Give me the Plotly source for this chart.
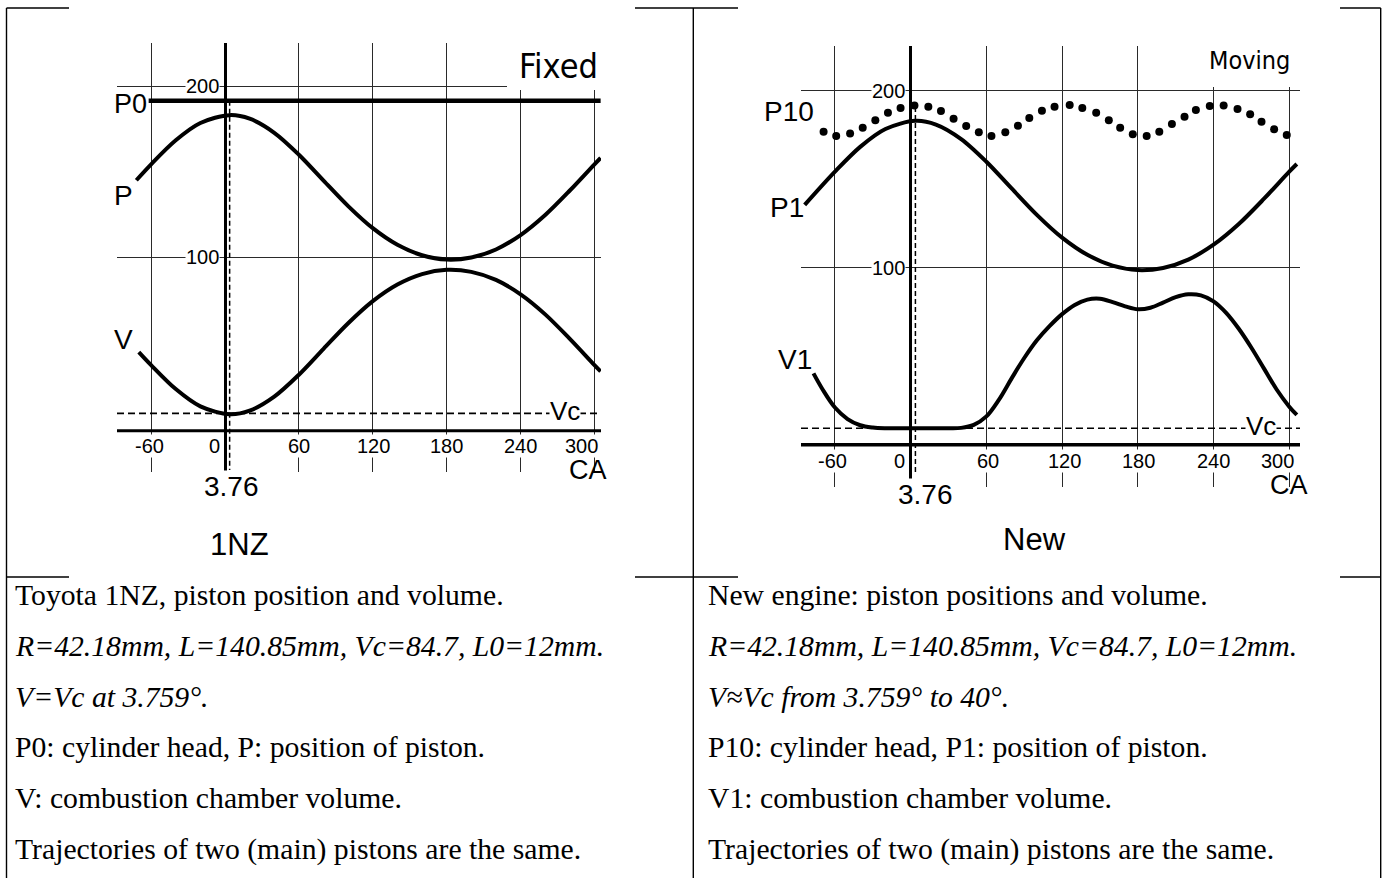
import plotly.graph_objects as go

W, H = 1383, 878

# ---------------- data ----------------
CA_TICKS = [-60, 0, 60, 120, 180, 240, 300]
TICK_TEXT = ["-60", "0", "60", "120", "180", "240", "300"]
Y_TICKS = [100, 200]
Y_TICK_TEXT = ["200", "100"]

# Left panel (Toyota 1NZ, fixed head)
P_CA = [-72, -60, -40, -20, 3.76, 20, 40, 60, 80, 100, 120, 140, 160, 180, 200, 220, 240, 260, 280, 300, 305]
P_VAL = [145.0, 154.3, 168.3, 178.4, 183.0, 180.9, 172.7, 159.9, 144.8, 129.9, 117.0, 107.3, 101.2, 98.7,
         99.9, 104.6, 113.0, 124.7, 139.0, 154.3, 158.0]
V_CA = [-70, -60, -40, -20, 3.76, 20, 40, 60, 80, 100, 120, 140, 160, 180, 200, 220, 240, 260, 280, 300, 305]
V_VAL = [44.7, 37.1, 23.1, 13.0, 8.4, 10.5, 18.7, 31.5, 46.6, 61.5, 74.4, 84.1, 90.2, 92.7, 91.5, 86.8,
         78.4, 66.7, 52.4, 37.1, 33.4]
P0_CA = [-62, 305]
P0_VAL = [191.4, 191.4]
VC_LEFT = 8.9

# Right panel (new engine, moving head)
P1_CA = [-84, -60, -40, -20, 3.76, 20, 40, 60, 80, 100, 120, 140, 160, 180, 200, 220, 240, 260, 280, 300, 306]
P1_VAL = [135.5, 154.3, 168.3, 178.4, 183.0, 180.9, 172.7, 159.9, 144.8, 129.9, 117.0, 107.3, 101.2, 98.7,
          99.9, 104.6, 113.0, 124.7, 139.0, 154.3, 158.6]
P10_CA = [-69, -59, -48, -38, -28, -18, -8, 3, 14, 24, 34, 44, 54, 64, 75, 85, 94, 104, 114, 126, 136, 147,
          157, 166, 176, 187, 197, 207, 217, 226, 237, 248, 259, 269, 278, 288, 298]
P10_VAL = [176.8, 174.4, 175.9, 179.1, 183.4, 187.6, 190.2, 191.7, 191.0, 188.5, 184.2, 180.1, 176.5, 174.4,
           176.5, 180.3, 184.6, 188.7, 191.0, 191.9, 190.2, 187.6, 183.4, 179.1, 175.5, 174.4, 176.8, 181.2,
           185.3, 189.1, 191.4, 191.7, 189.7, 186.8, 182.5, 178.2, 175.0]
V1_CA = [-77, -70, -60, -50, -40, -30, -20, -10, 0, 10, 20, 30, 40, 50, 60, 70, 80, 90, 100, 110, 120, 130,
         140, 150, 160, 170, 180, 190, 200, 210, 220, 230, 240, 250, 260, 270, 280, 290, 300, 306]
V1_VAL = [40.3, 31.5, 21.0, 14.5, 11.0, 9.7, 9.3, 9.3, 9.3, 9.3, 9.3, 9.3, 9.5, 11.2, 16.0, 25.5, 37.5,
          49.0, 59.0, 67.0, 73.8, 79.0, 82.0, 82.5, 80.6, 78.2, 76.5, 77.4, 80.3, 83.4, 85.0, 84.4, 81.0,
          74.5, 65.5, 54.8, 43.0, 31.2, 21.5, 16.8]
VC_RIGHT = 9.3
TDC = 3.76

LEFT_TEXT = [
    "Toyota 1NZ, piston position and volume.",
    "<i>R=42.18mm, L=140.85mm, Vc=84.7, L0=12mm.</i>",
    "<i>V=Vc at 3.759°.</i>",
    "P0: cylinder head, P: position of piston.",
    "V: combustion chamber volume.",
    "Trajectories of two (main) pistons are the same.",
]
RIGHT_TEXT = [
    "New engine: piston positions and volume.",
    "<i>R=42.18mm, L=140.85mm, Vc=84.7, L0=12mm.</i>",
    "<i>V≈Vc from 3.759° to 40°.</i>",
    "P10: cylinder head, P1: position of piston.",
    "V1: combustion chamber volume.",
    "Trajectories of two (main) pistons are the same.",
]

SANS = "Liberation Sans, Arial, sans-serif"
NARROW = "Liberation Sans Narrow, Arial Narrow, DejaVu Sans Condensed, sans-serif"
SERIF = "Liberation Serif, Times New Roman, serif"


def px_x(p):
    return p / W


def px_y(p):
    return 1 - p / H


fig = go.Figure()

LINE = dict(color="black", width=4, shape="spline", smoothing=0.9)

# left traces
fig.add_trace(go.Scatter(x=P0_CA, y=P0_VAL, mode="lines", line=dict(color="black", width=4.5),
                         xaxis="x", yaxis="y", hoverinfo="skip"))
fig.add_trace(go.Scatter(x=P_CA, y=P_VAL, mode="lines", line=LINE, xaxis="x", yaxis="y"))
fig.add_trace(go.Scatter(x=V_CA, y=V_VAL, mode="lines", line=LINE, xaxis="x", yaxis="y"))

# right traces
fig.add_trace(go.Scatter(x=P10_CA, y=P10_VAL, mode="markers", marker=dict(color="black", size=8),
                         xaxis="x2", yaxis="y2"))
fig.add_trace(go.Scatter(x=P1_CA, y=P1_VAL, mode="lines", line=LINE, xaxis="x2", yaxis="y2"))
fig.add_trace(go.Scatter(x=V1_CA, y=V1_VAL, mode="lines",
                         line=dict(color="black", width=4, shape="spline", smoothing=1.0),
                         xaxis="x2", yaxis="y2"))

GRID = "#2a2a2a"
axis_common = dict(showticklabels=False, ticks="", showline=False, gridcolor=GRID, gridwidth=1.2,
                   fixedrange=True)

fig.update_layout(
    width=W, height=H, margin=dict(l=0, r=0, t=0, b=0), paper_bgcolor="white", plot_bgcolor="white",
    showlegend=False,
    xaxis=dict(domain=[px_x(117), px_x(601)], range=[-87.7, 305.3], tickvals=CA_TICKS, showgrid=True,
               zeroline=True, zerolinecolor="black", zerolinewidth=3, anchor="y", **axis_common),
    yaxis=dict(domain=[px_y(472), px_y(43)], range=[-25.3, 225.1], tickvals=Y_TICKS, showgrid=True,
               zeroline=False, anchor="x", **axis_common),
    xaxis2=dict(domain=[px_x(801), px_x(1300)], range=[-86.9, 308.5], tickvals=CA_TICKS, showgrid=True,
                zeroline=True, zerolinecolor="black", zerolinewidth=3, anchor="y2", **axis_common),
    yaxis2=dict(domain=[px_y(487), px_y(46)], range=[-23.9, 225.3], tickvals=Y_TICKS, showgrid=True,
                zeroline=False, anchor="x2", **axis_common),
)

shapes = []
# bottom axis lines
shapes.append(dict(type="line", xref="x domain", yref="y", x0=0, x1=1, y0=-1.2, y1=-1.2,
                   line=dict(color="black", width=3)))
shapes.append(dict(type="line", xref="x2 domain", yref="y2", x0=0, x1=1, y0=0, y1=0,
                   line=dict(color="black", width=3.5)))
# Vc dashed lines
shapes.append(dict(type="line", xref="x domain", yref="y", x0=0, x1=1, y0=VC_LEFT, y1=VC_LEFT,
                   line=dict(color="black", width=1.6, dash="7px,4px")))
shapes.append(dict(type="line", xref="x2 domain", yref="y2", x0=0, x1=1, y0=VC_RIGHT, y1=VC_RIGHT,
                   line=dict(color="black", width=1.6, dash="7px,4px")))
# TDC dashed verticals
shapes.append(dict(type="line", xref="x", yref="y", x0=TDC, x1=TDC, y0=P0_VAL[0], y1=-24.2,
                   line=dict(color="black", width=1.5, dash="5px,3px")))
shapes.append(dict(type="line", xref="x2", yref="y2", x0=TDC, x1=TDC, y0=190.8, y1=-16.6,
                   line=dict(color="black", width=1.5, dash="5px,3px")))
# white boxes behind "Fixed" / "Moving"
shapes.append(dict(type="rect", xref="paper", yref="paper", x0=px_x(507), x1=px_x(603), y0=px_y(90),
                   y1=px_y(38), fillcolor="white", line=dict(width=0), layer="above"))
shapes.append(dict(type="rect", xref="paper", yref="paper", x0=px_x(1175), x1=px_x(1303), y0=px_y(87),
                   y1=px_y(40), fillcolor="white", line=dict(width=0), layer="above"))

# table borders
TB = dict(color="black", width=1.4)
for xv in [6.5, 693.3, 1380.7]:
    shapes.append(dict(type="line", xref="paper", yref="paper", x0=px_x(xv), x1=px_x(xv), y0=px_y(8),
                       y1=px_y(878), line=TB))
for yv in [8, 577]:
    for (a, b) in [(6.5, 69), (635, 738), (1340, 1380.7)]:
        shapes.append(dict(type="line", xref="paper", yref="paper", x0=px_x(a), x1=px_x(b), y0=px_y(yv),
                           y1=px_y(yv), line=TB))

fig.update_layout(shapes=shapes)

ann = []


def label(text, x, y, size, xref="x", yref="y", family=SANS, bg=None, xshift=0, xanchor="center"):
    d = dict(text=text, x=x, y=y, xref=xref, yref=yref, showarrow=False, xanchor=xanchor, yanchor="middle",
             xshift=xshift, font=dict(family=family, size=size, color="black"), borderpad=0)
    if bg:
        d["bgcolor"] = bg
    ann.append(d)


def plabel(text, px, py, size, **kw):
    label(text, px_x(px), px_y(py), size, xref="paper", yref="paper", **kw)


# left chart labels
label("P0", -77.1, 189.4, 27)
label("P", -82.8, 135.8, 28)
label("V", -82.8, 52.3, 28)
plabel("Fixed", 558, 66, 34, family=NARROW)
for v, t in zip(sorted(Y_TICKS, reverse=True), Y_TICK_TEXT):
    label(t, -17.9, v, 20, bg="white")
L_SHIFT = [-2, -11, 0, 1, 0, 0, -13]
for v, t, s in zip(CA_TICKS, TICK_TEXT, L_SHIFT):
    label(t, v, -10.2, 20, bg="white", xshift=s)
label("Vc", 276, 10.3, 26, bg="white")
plabel("CA", 588, 470, 27)
plabel("3.76", 231, 486, 28, bg="white")
plabel("1NZ", 239, 544, 31)

# right chart labels
plabel("Moving", 1249, 61, 25, family=NARROW)
plabel("P10", 789, 111, 28)
plabel("P1", 787, 207, 28)
plabel("V1", 795, 359, 28)
for v, t in zip(sorted(Y_TICKS, reverse=True), Y_TICK_TEXT):
    label(t, -17.3, v, 20, xref="x2", yref="y2", bg="white")
R_SHIFT = [-2, -11, 2, 2, 1, 0, -12]
for v, t, s in zip(CA_TICKS, TICK_TEXT, R_SHIFT):
    label(t, v, -9.2, 20, xref="x2", yref="y2", bg="white", xshift=s)
label("Vc", 277.6, 10.6, 26, xref="x2", yref="y2", bg="white")
plabel("CA", 1289, 485, 27)
plabel("3.76", 926, 494, 28, bg="white")
plabel("New", 1034, 539, 31)

# table text
ROW_Y = [595, 646, 697, 747, 798, 849]
for t, yv in zip(LEFT_TEXT, ROW_Y):
    plabel(t, 14, yv, 29.7, family=SERIF, xanchor="left")
for t, yv in zip(RIGHT_TEXT, ROW_Y):
    plabel(t, 707, yv, 29.7, family=SERIF, xanchor="left")

fig.update_layout(annotations=ann)

fig.write_html("out.html", config={"displayModeBar": False},
               post_script="document.body.style.margin='0';document.body.style.overflow='hidden';")
